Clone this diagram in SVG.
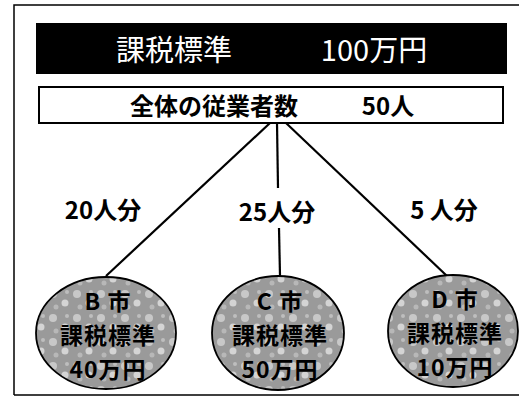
<svg xmlns="http://www.w3.org/2000/svg" width="520" height="398" viewBox="0 0 520 398">
<style>
text{font-family:"Noto Sans CJK JP","Liberation Sans",sans-serif;text-anchor:middle;dominant-baseline:central}
.title{fill:#fff;font-size:29px}
.hdr{fill:#000;font-size:24px;font-weight:bold}
.lab{fill:#000;font-size:24px;font-weight:bold}
.city{fill:#000;font-size:23px;font-weight:bold;letter-spacing:1px}
.conn{stroke:#000;stroke-width:2.2;fill:none}
.ell{fill:url(#mottle);stroke:#000;stroke-width:1.8}
</style>
<defs>
<pattern id="mottle" width="24" height="24" patternUnits="userSpaceOnUse">
<rect width="24" height="24" fill="#9a9a9a"/>
<circle cx="5" cy="6" r="4" fill="#c8c8c8"/>
<circle cx="17" cy="15" r="3.5" fill="#d4d4d4"/>
<circle cx="8" cy="19" r="2.5" fill="#b8b8b8"/>
<circle cx="19" cy="4" r="2" fill="#bebebe"/>
</pattern>
</defs>
<path d="M14,395 V5 H519 M14,395 H519" fill="none" stroke="#000" stroke-width="1.5"/>
<g id="total">
<rect x="36" y="23" width="471" height="51" fill="#000"/>
<text class="title" x="174" y="48">課税標準</text>
<text class="title" x="374" y="48">100万円</text>
</g>
<g id="employees">
<rect x="39" y="87" width="464" height="36" fill="#fff" stroke="#000" stroke-width="2"/>
<text class="hdr" x="214" y="104">全体の従業者数</text>
<text class="hdr" x="388" y="104">50人</text>
</g>
<g id="connectors">
<line class="conn" x1="270" y1="123" x2="106" y2="276"/>
<line class="conn" x1="277" y1="123" x2="278" y2="188"/>
<line class="conn" x1="279" y1="228" x2="280" y2="276"/>
<line class="conn" x1="286" y1="123" x2="447" y2="276"/>
<text class="lab" x="103" y="208">20人分</text>
<text class="lab" x="277" y="210">25人分</text>
<text class="lab" x="444" y="208">5 人分</text>
</g>
<g id="cityB">
<ellipse class="ell" cx="106" cy="333" rx="70" ry="56"/>
<text class="city" x="108" y="300">B 市</text>
<text class="city" x="108" y="334">課税標準</text>
<text class="city" x="108" y="368">40万円</text>
</g>
<g id="cityC">
<ellipse class="ell" cx="278" cy="333" rx="66" ry="57"/>
<text class="city" x="280" y="300">C 市</text>
<text class="city" x="280" y="334">課税標準</text>
<text class="city" x="280" y="368">50万円</text>
</g>
<g id="cityD">
<ellipse class="ell" cx="453" cy="331" rx="65" ry="56"/>
<text class="city" x="455" y="298">D 市</text>
<text class="city" x="455" y="332">課税標準</text>
<text class="city" x="455" y="366">10万円</text>
</g>
</svg>
